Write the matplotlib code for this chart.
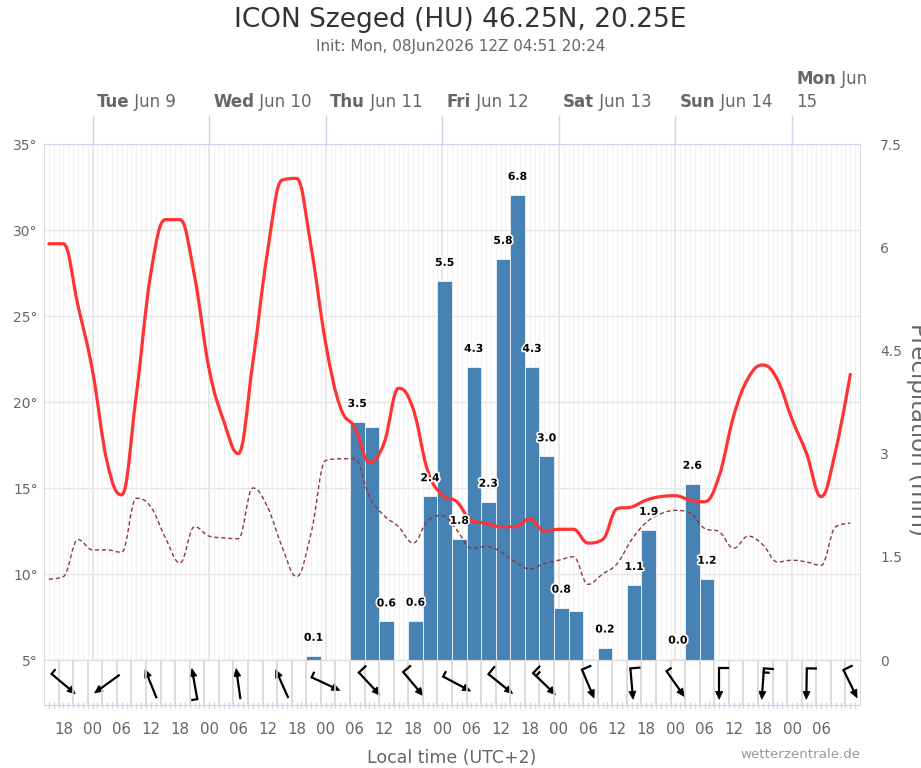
import numpy as np
import matplotlib
matplotlib.use('Agg')
import matplotlib.pyplot as plt
from matplotlib.path import Path
from matplotlib.patches import PathPatch, Polygon
import matplotlib.transforms as mtransforms
import matplotlib.patheffects as pe

plt.rcParams['font.family'] = ['DejaVu Sans']

title = "ICON Szeged (HU) 46.25N, 20.25E"
subtitle = "Init: Mon, 08Jun2026 12Z 04:51 20:24"
x_label = "Local time (UTC+2)"
y2_label = "Precipitation (mm)"
credit = "wetterzentrale.de"

# time axis: hours since Mon 08 Jun 2026 00:00 local time
x_start, x_end = 14, 182
temp_hours = np.arange(15, 181, 3)

temperature = [29.2, 29.2, 25.6, 21.8, 16.5, 14.6, 20.4, 27.5, 30.6, 30.6,
               27.3, 21.9, 18.9, 17.0, 22.3, 28.7, 32.9, 33.0, 29.0, 23.4,
               19.7, 18.5, 16.5, 17.6, 20.8, 19.6, 16.0, 14.6, 14.2, 13.1,
               12.95, 12.75, 12.75, 13.2, 12.5, 12.6, 12.6, 11.8, 12.0, 13.8,
               13.9, 14.3, 14.5, 14.55, 14.3, 14.2, 15.7, 19.2, 21.4, 22.15,
               21.3, 19.0, 17.0, 14.5, 17.2, 21.6]

dewpoint = [9.7, 9.85, 12.0, 11.4, 11.4, 11.26, 14.4, 13.9, 12.1, 10.65,
            12.75, 12.2, 12.1, 12.05, 15.0, 13.9, 11.6, 9.85, 12.4, 16.6,
            16.7, 16.7, 14.5, 13.4, 12.75, 11.8, 13.1, 13.4, 12.55, 11.5,
            11.6, 11.3, 10.7, 10.3, 10.6, 10.8, 11.0, 9.4, 10.0, 10.6,
            12.0, 13.0, 13.5, 13.7, 13.55, 12.65, 12.46, 11.5, 12.2, 11.7,
            10.7, 10.8, 10.7, 10.5, 12.75, 12.95]

# 3-hour precipitation periods (start hour)
precip_start = np.arange(14, 180, 3)
precipitation = [0, 0, 0, 0, 0, 0, 0, 0, 0, 0,
                 0, 0, 0, 0, 0, 0, 0, 0, 0.06, 0,
                 0, 3.46, 3.38, 0.56, 0, 0.57, 2.38, 5.51, 1.76, 4.26,
                 2.30, 5.83, 6.76, 4.26, 2.96, 0.76, 0.71, 0.02, 0.18, 0,
                 1.09, 1.89, 0, 0.02, 2.56, 1.18, 0, 0, 0, 0,
                 0, 0, 0, 0, 0, 0]
hidden_labels = [22, 36, 37]

# wind (direction wind blows from, deg; speed, kt)
wind_hours = np.arange(18, 181, 9)
wind_dir = [310, 54, 158, 170, 172, 156, 295, 317, 320, 298,
            309, 314, 337, 355, 325, 0, 4, 1, 334]
wind_speed = [5, 2, 2, 5, 2, 2, 5, 10, 10, 5,
              10, 15, 10, 10, 5, 10, 15, 10, 10]

day_hours = [24, 48, 72, 96, 120, 144, 168]
day_names = ['Tue', 'Wed', 'Thu', 'Fri', 'Sat', 'Sun', 'Mon']
day_dates = ['Jun 9', 'Jun 10', 'Jun 11', 'Jun 12', 'Jun 13', 'Jun 14', 'Jun 15']

hour_ticks = np.arange(18, 175, 6)
hour_labels = ['%02d' % (h % 24) for h in hour_ticks]

temp_ticks = [5, 10, 15, 20, 25, 30, 35]
precip_ticks = [0, 1.5, 3, 4.5, 6, 7.5]

TEMP_COLOR = '#ff3333'
DEW_COLOR = '#8b3a3a'
BAR_COLOR = '#4682b4'
GRID = '#e6e6e6'
AXIS_BLUE = '#ccd6eb'
LABEL = '#666666'

W, H = 921, 768
fig = plt.figure(figsize=(W / 100, H / 100), dpi=100)
fig.patch.set_facecolor('white')


def hc_spline_path(x, y, smoothing=1.5):
    x = np.asarray(x, float)
    y = np.asarray(y, float)
    n = len(x)
    lc = np.column_stack([x, y]).copy()
    rc = lc.copy()
    d = smoothing + 1
    for i in range(1, n - 1):
        lx = (smoothing * x[i] + x[i - 1]) / d
        ly = (smoothing * y[i] + y[i - 1]) / d
        rx = (smoothing * x[i] + x[i + 1]) / d
        ry = (smoothing * y[i] + y[i + 1]) / d
        if rx != lx:
            corr = (ry - ly) * (rx - x[i]) / (rx - lx) + y[i] - ry
            ly += corr
            ry += corr
        if ly > max(y[i - 1], y[i]):
            ly = max(y[i - 1], y[i]); ry = 2 * y[i] - ly
        elif ly < min(y[i - 1], y[i]):
            ly = min(y[i - 1], y[i]); ry = 2 * y[i] - ly
        if ry > max(y[i + 1], y[i]):
            ry = max(y[i + 1], y[i]); ly = 2 * y[i] - ry
        elif ry < min(y[i + 1], y[i]):
            ry = min(y[i + 1], y[i]); ly = 2 * y[i] - ry
        lc[i] = (lx, ly)
        rc[i] = (rx, ry)
    verts = [(x[0], y[0])]
    codes = [Path.MOVETO]
    for i in range(n - 1):
        verts += [tuple(rc[i]), tuple(lc[i + 1]), (x[i + 1], y[i + 1])]
        codes += [Path.CURVE4] * 3
    return Path(verts, codes)


# ---------------- main axes (grid + temperature scale) -------------
ax = fig.add_axes([44 / W, (H - 660) / H, 816 / W, 516 / H])
ax.set_xlim(x_start, x_end)
ax.set_ylim(5, 35)
ax.set_yticks(temp_ticks)
ax.set_yticklabels(['%d°' % v for v in temp_ticks])
ax.tick_params(axis='y', length=0, pad=4.5, labelsize=10, labelcolor=LABEL)
ax.yaxis.grid(True, color=GRID, lw=1)
ax.xaxis.set_ticks_position('top')
ax.set_xticks(day_hours)
ax.set_xticks(np.arange(15, 182, 1), minor=True)
ax.tick_params(axis='x', which='major', direction='out', length=21,
               color=AXIS_BLUE, width=1, labeltop=False, labelbottom=False)
ax.tick_params(axis='x', which='minor', length=0, labeltop=False, labelbottom=False)
ax.xaxis.grid(True, which='major', color='#e3e3e3', lw=1.2)
ax.xaxis.grid(True, which='minor', color='#f2f2f2', lw=0.8)
ax.set_axisbelow(True)
for s in ['left', 'right', 'bottom']:
    ax.spines[s].set_color('#dddddd')
ax.spines['top'].set_color(AXIS_BLUE)

# ---------------- precipitation bars -------------------------------
ax2 = ax.twinx()
ax2.set_ylim(0, 7.5)
ax2.set_yticks(precip_ticks)
ax2.set_yticklabels(['%g' % v for v in precip_ticks])
ax2.tick_params(axis='y', length=0, pad=14.5, labelsize=10, labelcolor=LABEL)
for s in ax2.spines.values():
    s.set_visible(False)
ax2.bar(precip_start, precipitation, width=3, align='edge', color=BAR_COLOR,
        edgecolor='white', linewidth=0.5)

# ---------------- lines on top -------------------------------------
ax3 = ax.twinx()
ax3.set_ylim(5, 35)
ax3.axis('off')
dew_patch = PathPatch(hc_spline_path(temp_hours, dewpoint), fill=False,
                      edgecolor=DEW_COLOR, lw=1.0, linestyle=(0, (3, 2)))
ax3.add_patch(dew_patch)
temp_patch = PathPatch(hc_spline_path(temp_hours, temperature), fill=False,
                       edgecolor=TEMP_COLOR, lw=2.3, capstyle='round', joinstyle='round')
ax3.add_patch(temp_patch)

for k, v in enumerate(precipitation):
    if v > 0 and k not in hidden_labels:
        ax3.annotate('%.1f' % v, xy=(precip_start[k] + 1.5, v), xycoords=ax2.transData,
                     xytext=(0, 13), textcoords='offset points', ha='center', va='center',
                     fontsize=7.8, fontweight='bold', color='black',
                     path_effects=[pe.withStroke(linewidth=2.5, foreground='white')],
                     annotation_clip=False)

# ---------------- top day labels -----------------------------------
for h, nm, dt in zip(day_hours, day_names, day_dates):
    if h == 168:
        t1 = ax.annotate(nm, xy=(h, 1), xycoords=('data', 'axes fraction'),
                         xytext=(3, 46.5), textcoords='offset points', ha='left', va='center',
                         fontsize=12, fontweight='bold', color=LABEL, annotation_clip=False)
        ax.annotate(' ' + dt.split()[0], xy=(1, 0.5), xycoords=t1, ha='left', va='center',
                    fontsize=12, color=LABEL, annotation_clip=False)
        ax.annotate(dt.split()[1], xy=(h, 1), xycoords=('data', 'axes fraction'),
                    xytext=(3, 30.5), textcoords='offset points', ha='left', va='center',
                    fontsize=12, color=LABEL, annotation_clip=False)
    else:
        t1 = ax.annotate(nm, xy=(h, 1), xycoords=('data', 'axes fraction'),
                         xytext=(3, 30.5), textcoords='offset points', ha='left', va='center',
                         fontsize=12, fontweight='bold', color=LABEL, annotation_clip=False)
        ax.annotate(' ' + dt, xy=(1, 0.5), xycoords=t1, ha='left', va='center',
                    fontsize=12, color=LABEL, annotation_clip=False)

# ---------------- wind panel ----------------------------------------
axw = fig.add_axes([44 / W, (H - 705) / H, 816 / W, 45 / H])
axw.set_xlim(x_start, x_end)
axw.set_ylim(0, 1)
axw.set_yticks([])
axw.vlines(np.arange(17, 182, 3), 0, 1, color='#d6d6d6', lw=1.2)
axw.set_xticks(hour_ticks)
axw.set_xticklabels(hour_labels)
axw.set_xticks(np.arange(15, 182, 1), minor=True)
axw.tick_params(axis='x', which='both', direction='inout', length=5, color=AXIS_BLUE,
                width=1)
axw.tick_params(axis='x', which='major', pad=10, labelsize=10.8, labelcolor=LABEL)
for s in ['left', 'right', 'top']:
    axw.spines[s].set_color('#dddddd')
axw.spines['bottom'].set_color(AXIS_BLUE)

L = 31.0     # px
HL, HW = 8.0, 3.6
for h, d, sp in zip(wind_hours, wind_dir, wind_speed):
    b = np.deg2rad(d + 180.0)
    u = np.array([np.sin(b), np.cos(b)])
    p = np.array([-u[1], u[0]])
    tail = -u * L / 2
    head = u * L / 2
    trans = fig.dpi_scale_trans + mtransforms.ScaledTranslation(h, 0.47, axw.transData)
    base = head - u * HL
    axw.plot(np.array([tail[0], base[0] + u[0]]) / 100, np.array([tail[1], base[1] + u[1]]) / 100,
             transform=trans, color='black', lw=1.6, solid_capstyle='butt', clip_on=False)
    tri = np.array([head, base + p * HW, base - p * HW]) / 100
    axw.add_patch(Polygon(tri, closed=True, transform=trans, facecolor='black',
                          edgecolor='black', lw=0.5, clip_on=False))
    full = int(sp // 10)
    half = int((sp % 10) // 5)
    pos = 0.0
    for _ in range(full):
        a = tail + u * pos
        bb = a + p * 9.0
        axw.plot(np.array([a[0], bb[0]]) / 100, np.array([a[1], bb[1]]) / 100, transform=trans,
                 color='black', lw=1.6, solid_capstyle='projecting', clip_on=False)
        pos += 4.0
    for _ in range(half):
        a = tail + u * pos
        bb = a + p * 5.0
        axw.plot(np.array([a[0], bb[0]]) / 100, np.array([a[1], bb[1]]) / 100, transform=trans,
                 color='black', lw=1.6, solid_capstyle='projecting', clip_on=False)
        pos += 4.0

# ---------------- titles & labels ----------------------------------
fig.text(0.5, 1 - 20 / H, title, ha='center', va='center', fontsize=19, color='#333333')
fig.text(0.5, 1 - 47 / H, subtitle, ha='center', va='center', fontsize=11, color=LABEL)
fig.text(452 / W, 1 - 758 / H, x_label, ha='center', va='center', fontsize=12.5, color=LABEL)
fig.text(860 / W, 1 - 755 / H, credit, ha='right', va='center', fontsize=9.6, color='#999999')
fig.text(906 / W, 1 - 429 / H, y2_label, ha='left', va='center', rotation=-90,
         fontsize=16.5, color=LABEL)

fig.savefig('out.png', dpi=100)
